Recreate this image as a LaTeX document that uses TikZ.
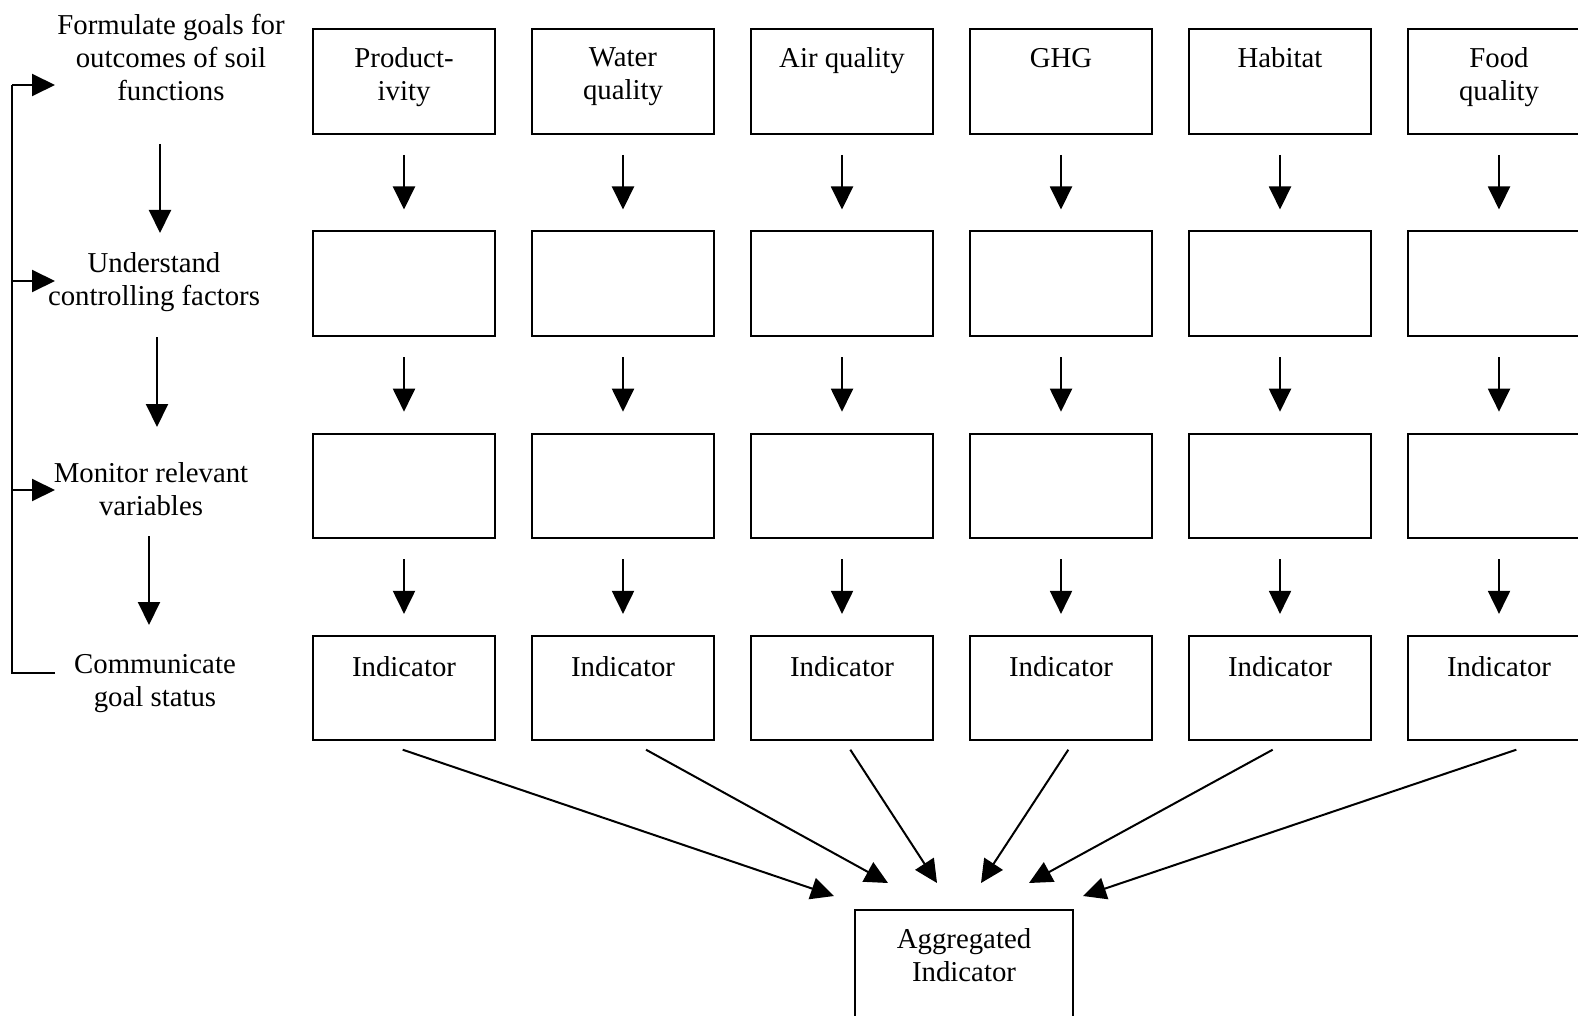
\documentclass[tikz,border=0pt]{standalone}
\usepackage{fontspec}
\setmainfont{Liberation Serif}
\usetikzlibrary{arrows.meta,calc}
\begin{document}
\begin{tikzpicture}[x=1pt,y=-1pt,line width=2pt,
  box/.style={draw,rectangle,minimum width=182pt,minimum height=104.5pt,inner sep=0pt,anchor=north west},
  txt/.style={font=\fontsize{28.8}{33}\selectfont,align=center,inner sep=0pt,anchor=north},
  arr/.style={-{Triangle[length=23pt,width=22pt]}},
  varr/.style={arr,shorten <=20pt,shorten >=21pt}]
\useasboundingbox (0,0) rectangle (1578,1016);
% grid of boxes
\foreach \c in {1,...,6}{
  \foreach \r in {1,...,4}{
    \node[box] (b\r-\c) at ({312+219*(\c-1)},{28.3+202.2*(\r-1)}) {};
  }
}
% row 1 texts
\node[txt] (t1) at ($(b1-1.north)+(0,18.7)$) {Product-\\ivity};
\node[txt] (t2) at ($(b1-2.north)+(0,18.7)$) {Water\\quality};
\node[txt] (t3) at ($(b1-3.north)+(0,18.7)$) {Air quality};
\node[txt] (t4) at ($(b1-4.north)+(0,18.7)$) {GHG};
\node[txt] (t5) at ($(b1-5.north)+(0,18.7)$) {Habitat};
\node[txt] (t6) at ($(b1-6.north)+(0,18.7)$) {Food\\quality};
% row 4 texts
\foreach \c in {1,...,6}{
  \node[txt] (ind\c) at ($(b4-\c.north)+(0,20.4)$) {Indicator};
}
% vertical arrows
\foreach \c in {1,...,6}{
  \draw[varr] (b1-\c.south) -- (b2-\c.north);
  \draw[varr] (b2-\c.south) -- (b3-\c.north);
  \draw[varr] (b3-\c.south) -- (b4-\c.north);
}
% aggregated box
\node[draw,rectangle,minimum width=218pt,minimum height=130pt,inner sep=0pt,anchor=north west] (agg) at (854,909) {};
\node[txt] (aggt) at ($(agg.north)+(0,18.3)$) {Aggregated\\Indicator};
% tips of converging arrows
\coordinate (e1) at (834,896);
\coordinate (e2) at (888,883);
\coordinate (e3) at (937,883);
\coordinate (e4) at (981,883);
\coordinate (e5) at (1029,883);
\coordinate (e6) at (1083,896);
\draw[arr] ($(b4-1.south)+(-1.3,8.3)$) -- (e1);
\draw[arr] ($(b4-2.south)+(23,8.3)$) -- (e2);
\draw[arr] ($(b4-3.south)+(8.3,8.3)$) -- (e3);
\draw[arr] ($(b4-4.south)+(7.3,8.3)$) -- (e4);
\draw[arr] ($(b4-5.south)+(-7.3,8.3)$) -- (e5);
\draw[arr] ($(b4-6.south)+(17.3,8.3)$) -- (e6);
% left labels
\node[txt] (l1) at (171,13.3) {Formulate goals for\\outcomes of soil\\functions};
\node[txt] (l2) at (154,252) {Understand\\controlling factors};
\node[txt] (l3) at (151,461.3) {Monitor relevant\\variables};
\node[txt] (l4) at (155,653.3) {Communicate\\goal status};
% left vertical arrows
\coordinate (v1a) at (160,144); \coordinate (v1b) at (160,233);
\coordinate (v2a) at (157,337); \coordinate (v2b) at (157,427);
\coordinate (v3a) at (149,536); \coordinate (v3b) at (149,625);
\draw[arr] (v1a) -- (v1b);
\draw[arr] (v2a) -- (v2b);
\draw[arr] (v3a) -- (v3b);
% feedback bracket
\coordinate (k1) at (12,85);  \coordinate (a1) at (55,85);
\coordinate (k2) at (12,281); \coordinate (a2) at (55,281);
\coordinate (k3) at (12,490); \coordinate (a3) at (55,490);
\coordinate (k4) at (12,673); \coordinate (a4) at (55,673);
\draw (a4) -- (k4) -- (k1);
\draw[arr] (k1) -- (a1);
\draw[arr] (k2) -- (a2);
\draw[arr] (k3) -- (a3);
\end{tikzpicture}
\end{document}
